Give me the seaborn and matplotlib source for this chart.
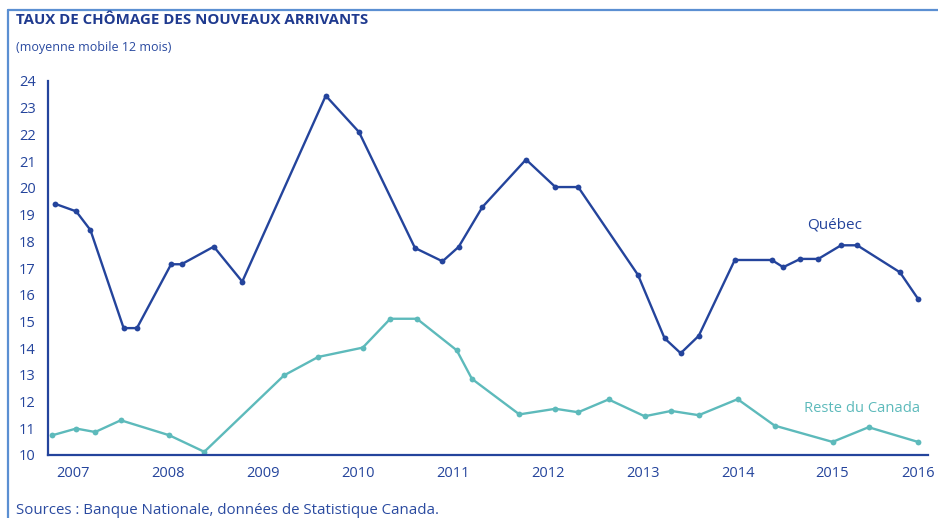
import matplotlib
matplotlib.use("Agg")
import matplotlib.pyplot as plt
import matplotlib.transforms as mtransforms
import seaborn as sns
import pandas as pd
from matplotlib.lines import Line2D

# ---- data (fractional year, rate %) ----
quebec_x = [2006.81, 2007.03, 2007.18, 2007.53, 2007.67, 2008.03, 2008.14, 2008.48,
            2008.78, 2009.66, 2010.01, 2010.60, 2010.89, 2011.06, 2011.31, 2011.77,
            2012.08, 2012.32, 2012.95, 2013.23, 2013.40, 2013.59, 2013.97, 2014.36,
            2014.48, 2014.66, 2014.85, 2015.09, 2015.26, 2015.71, 2015.90]
quebec_y = [19.40, 19.12, 18.42, 14.75, 14.75, 17.14, 17.14, 17.80,
            16.49, 23.45, 22.09, 17.75, 17.25, 17.79, 19.28, 21.06,
            20.03, 20.03, 16.74, 14.37, 13.81, 14.46, 17.30, 17.30,
            17.03, 17.34, 17.34, 17.85, 17.85, 16.84, 15.85]

rest_x = [2006.78, 2007.03, 2007.23, 2007.50, 2008.01, 2008.38, 2009.22, 2009.58,
          2010.05, 2010.34, 2010.62, 2011.04, 2011.20, 2011.70, 2012.08, 2012.32,
          2012.64, 2013.02, 2013.30, 2013.59, 2014.00, 2014.39, 2015.00, 2015.38,
          2015.90]
rest_y = [10.74, 10.99, 10.86, 11.30, 10.74, 10.12, 12.98, 13.67,
          14.02, 15.10, 15.10, 13.92, 12.85, 11.52, 11.73, 11.60,
          12.08, 11.45, 11.65, 11.49, 12.09, 11.10, 10.49, 11.04,
          10.49]

x_ticks = list(range(2007, 2017))
y_ticks = list(range(10, 25))

title = "TAUX DE CHÔMAGE DES NOUVEAUX ARRIVANTS"
subtitle = "(moyenne mobile 12 mois)"
source = "Sources : Banque Nationale, données de Statistique Canada."
label_q = "Québec"
label_r = "Reste du Canada"

# ---- style ----
sns.set_style("white")
plt.rcParams['font.family'] = ['Open Sans', 'DejaVu Sans']

NAVY = "#24449c"
TEAL = "#5dbabb"
FRAME = "#5b8fd2"

fig = plt.figure(figsize=(9.38, 5.18), dpi=100)
W, H = 938, 518
ax = fig.add_axes([48 / W, 1 - 455 / H, (928 - 48) / W, (455 - 81) / H])

dq = pd.DataFrame({"x": quebec_x, "y": quebec_y})
dr = pd.DataFrame({"x": rest_x, "y": rest_y})
sns.lineplot(data=dq, x="x", y="y", ax=ax, color=NAVY, linewidth=1.7,
             marker="o", markersize=4.2, markeredgewidth=0, sort=False)
sns.lineplot(data=dr, x="x", y="y", ax=ax, color=TEAL, linewidth=1.7,
             marker="o", markersize=4.2, markeredgewidth=0, sort=False)

ax.set_xlim(2006.733, 2016.006)
ax.set_ylim(10, 24)
ax.set_xticks(x_ticks)
ax.set_yticks(y_ticks)
ax.set_xticklabels([str(t) for t in x_ticks])
ax.set_yticklabels([str(t) for t in y_ticks])
ax.set_xlabel("")
ax.set_ylabel("")

for s in ["top", "right"]:
    ax.spines[s].set_visible(False)
for s in ["left", "bottom"]:
    ax.spines[s].set_color(NAVY)
    ax.spines[s].set_linewidth(1.6)

ax.tick_params(axis="both", direction="in", length=6.5, width=1.6, color=NAVY,
               labelcolor=NAVY, labelsize=10.5)
ax.tick_params(axis="y", pad=9)
ax.tick_params(axis="x", pad=8)
ax.grid(False)

# shift the last year label left so it stays inside the picture
last = ax.get_xticklabels()[-1]
last.set_transform(last.get_transform() +
                   mtransforms.ScaledTranslation(-9 / 100, 0, fig.dpi_scale_trans))

ax.text(835, H - 225, label_q, transform=None, color=NAVY, fontsize=11,
        ha="center", va="center")
ax.text(862, H - 409, label_r, transform=None, color=TEAL, fontsize=10.6,
        ha="center", va="center")

fig.text(16 / W, 1 - 20 / H, title, color="#1f3a8f", fontsize=10.8,
         fontweight="bold", ha="left", va="center")
fig.text(16 / W, 1 - 47 / H, subtitle, color="#2a4aa0", fontsize=9,
         ha="left", va="center")
fig.text(16 / W, 1 - 511 / H, source, color="#2a4aa0", fontsize=10.8,
         ha="left", va="center")

# frame lines (left and top)
fig.add_artist(Line2D([8 / W, 8 / W], [0, 1 - 10 / H], transform=fig.transFigure,
                      color=FRAME, linewidth=1.6))
fig.add_artist(Line2D([8 / W, 1], [1 - 10 / H, 1 - 10 / H], transform=fig.transFigure,
                      color=FRAME, linewidth=1.6))

fig.savefig("out.png", dpi=100)
